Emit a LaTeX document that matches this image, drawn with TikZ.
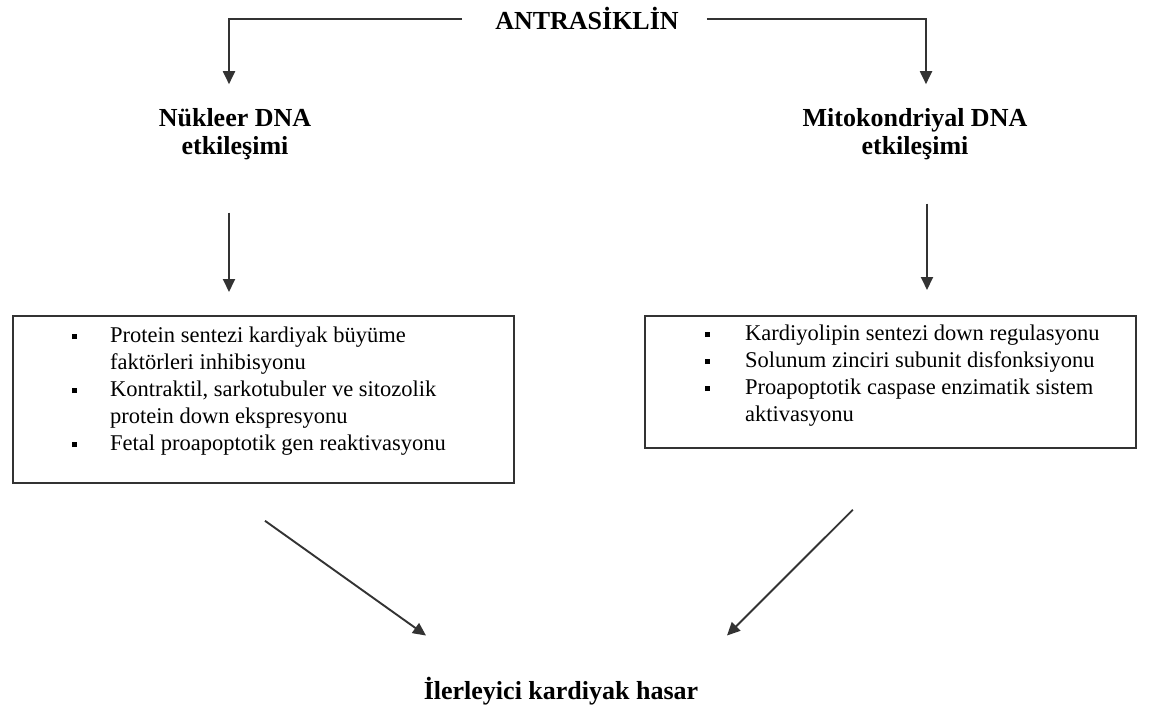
\documentclass[tikz,border=0pt]{standalone}
\usepackage{fontspec}
\setmainfont{Liberation Serif}
\usetikzlibrary{arrows.meta,calc}
\newcommand{\sqb}{\rule[3pt]{5pt}{5pt}}
\begin{document}
\begin{tikzpicture}[x=1pt,y=-1pt,
  conn/.style={line width=1.9pt, draw=black!80, -{Triangle[length=13pt,width=12pt]}},
  title/.style={font=\fontsize{26}{28}\selectfont\bfseries, inner sep=0pt, anchor=base},
  boxnode/.style={draw=black!80, line width=1.8pt, inner sep=0pt, anchor=north west, fill=white},
  listtext/.style={font=\fontsize{22.5}{27}\selectfont, inner sep=0pt, anchor=base west},
]
\fill[white] (0,0) rectangle (1152,706);
\useasboundingbox (0,0) rectangle (1152,706);

% boxes
\node[boxnode, minimum width=501pt, minimum height=167pt] (lbox) at (12,315) {};
\node[boxnode, minimum width=491pt, minimum height=132pt] (rbox) at (644,315) {};

% list texts
\node[listtext] (ltxt) at (72,342) {\begin{tabular}[t]{@{}p{38pt}@{}l@{}}
\sqb & Protein sentezi kardiyak büyüme\\
 & faktörleri inhibisyonu\\
\sqb & Kontraktil, sarkotubuler ve sitozolik\\
 & protein down ekspresyonu\\
\sqb & Fetal proapoptotik gen reaktivasyonu
\end{tabular}};
\node[listtext] (rtxt) at (705,340) {\begin{tabular}[t]{@{}p{40pt}@{}l@{}}
\sqb & Kardiyolipin sentezi down regulasyonu\\
\sqb & Solunum zinciri subunit disfonksiyonu\\
\sqb & Proapoptotik caspase enzimatik sistem\\
 & aktivasyonu
\end{tabular}};

% titles
\node[title] (antr) at (587,30) {ANTRASİKLİN};
\node[title] (nuk) at (235,127) {\begin{tabular}[t]{@{}c@{}}Nükleer DNA\\etkileşimi\end{tabular}};
\node[title] (mit) at (915,127) {\begin{tabular}[t]{@{}c@{}}Mitokondriyal DNA\\etkileşimi\end{tabular}};
\node[title] (fin) at (561,699) {İlerleyici kardiyak hasar};

% connectors
\draw[conn] ($(antr.west)+(-33,0)$) -| ($(nuk.north)+(-6,-23)$);
\draw[conn] ($(antr.east)+(28,0)$) -| ($(mit.north)+(11,-23)$);
\draw[conn] ($(nuk.south)+(-6,49)$) -- ($(nuk.south |- lbox.north)+(-6,-23)$);
\draw[conn] ($(mit.south)+(12,40)$) -- ($(mit.south |- rbox.north)+(12,-25)$);
\draw[conn] ($(lbox.south west)+(253,37)$) -- ($(fin.north)+(-135,-41)$);
\draw[conn] ($(rbox.south east)+(-284,61)$) -- ($(fin.north)+(166,-41)$);
\end{tikzpicture}
\end{document}
